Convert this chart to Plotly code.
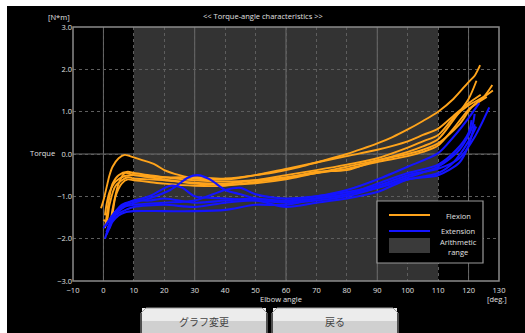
import plotly.graph_objects as go

# ---------------- data ----------------
flex_x = [
    [-0.8, 0, 1, 2, 3, 5, 7, 10, 13, 17, 20, 25, 30, 35, 40, 45, 50, 55, 60, 65, 70, 75, 80, 85, 90, 95, 100, 105, 110, 115, 120, 122, 123.8],
    [0.5, 1, 2, 3, 5, 8, 10, 15, 20, 30, 40, 50, 60, 70, 80, 90, 100, 105, 110, 115, 120, 122.6],
    [1.5, 2, 3, 5, 7, 10, 15, 20, 30, 40, 50, 60, 70, 80, 90, 100, 105, 110, 115, 120, 125, 127.8],
    [0, 1, 2, 4, 8, 10, 15, 20, 30, 40, 50, 60, 70, 80, 90, 100, 105, 110, 115, 120, 125, 128],
    [2, 3, 4, 6, 8, 10, 15, 20, 30, 40, 50, 60, 70, 80, 90, 100, 105, 110, 117, 121, 126],
    [0.5, 1, 2, 4, 7, 10, 15, 20, 30, 40, 50, 60, 70, 80, 90, 100, 105, 110, 115, 120, 124],
]
flex_y = [
    [-1.28, -1.1, -0.8, -0.5, -0.3, -0.1, -0.02, -0.08, -0.15, -0.25, -0.38, -0.5, -0.58, -0.6, -0.6, -0.56, -0.5, -0.45, -0.38, -0.3, -0.2, -0.1, 0.0, 0.12, 0.25, 0.4, 0.58, 0.78, 1.0, 1.3, 1.7, 1.85, 2.1],
    [-1.75, -1.5, -1.0, -0.7, -0.5, -0.42, -0.45, -0.5, -0.55, -0.62, -0.65, -0.62, -0.55, -0.45, -0.3, -0.15, 0.05, 0.18, 0.35, 0.8, 1.3, 1.73],
    [-1.7, -1.75, -1.3, -0.7, -0.45, -0.5, -0.55, -0.6, -0.7, -0.72, -0.69, -0.6, -0.45, -0.35, -0.19, -0.05, 0.05, 0.2, 0.6, 1.05, 1.35, 1.63],
    [-1.55, -1.6, -1.2, -0.75, -0.55, -0.58, -0.6, -0.62, -0.68, -0.7, -0.62, -0.5, -0.38, -0.25, -0.1, 0.15, 0.3, 0.45, 0.85, 1.15, 1.35, 1.5],
    [-1.7, -1.4, -1.0, -0.7, -0.6, -0.62, -0.66, -0.7, -0.75, -0.75, -0.66, -0.57, -0.42, -0.38, -0.15, 0.0, 0.1, 0.25, 0.7, 1.1, 1.35],
    [-1.45, -1.2, -0.9, -0.65, -0.52, -0.5, -0.52, -0.55, -0.55, -0.58, -0.5, -0.35, -0.2, -0.05, 0.1, 0.3, 0.45, 0.6, 0.9, 1.2, 1.4],
]
ext_x = [
    [1, 2, 3, 5, 7, 10, 20, 30, 40, 50, 60, 70, 80, 90, 100, 110, 115, 120, 122.5],
    [0.5, 2, 5, 10, 15, 22, 28, 31, 35, 40, 45, 50, 60, 70, 80, 90, 100, 110, 115, 120, 123.5],
    [0, 2, 6, 10, 15, 22, 26, 30, 40, 50, 60, 70, 80, 90, 100, 110, 117, 121, 122],
    [1, 3, 7, 10, 20, 30, 40, 45, 50, 60, 70, 80, 90, 100, 110, 117, 122, 126.8],
    [1.5, 4, 8, 10, 20, 30, 40, 50, 60, 70, 80, 90, 100, 110, 117, 120, 122],
    [0.8, 2, 4, 7, 10, 15, 20, 30, 40, 50, 60, 70, 80, 90, 100, 110, 116, 120, 121],
]
ext_y = [
    [-1.9, -1.75, -1.6, -1.45, -1.38, -1.35, -1.35, -1.35, -1.32, -1.2, -1.2, -1.05, -0.95, -0.8, -0.6, -0.45, -0.2, 0.3, 0.65],
    [-2.0, -1.7, -1.3, -1.15, -1.05, -0.85, -0.55, -0.5, -0.6, -0.85, -0.95, -1.05, -1.1, -1.0, -0.85, -0.6, -0.3, 0.02, 0.4, 0.85, 1.2],
    [-1.75, -1.55, -1.2, -1.1, -1.0, -0.75, -0.8, -1.0, -1.05, -1.1, -1.15, -1.1, -1.0, -0.8, -0.55, -0.3, 0.1, 0.6, 0.95],
    [-1.85, -1.5, -1.25, -1.2, -1.15, -1.1, -0.85, -0.8, -0.95, -1.05, -1.0, -0.9, -0.75, -0.5, -0.35, -0.1, 0.4, 1.1],
    [-1.8, -1.45, -1.3, -1.25, -1.2, -1.25, -1.15, -1.1, -1.25, -1.15, -1.05, -0.9, -0.6, -0.5, -0.2, 0.2, 0.7],
    [-1.7, -1.55, -1.35, -1.2, -1.1, -1.1, -1.05, -1.15, -1.1, -1.05, -1.12, -1.05, -0.95, -0.7, -0.45, -0.25, 0.1, 0.5, 0.8],
]
range_lo, range_hi = 10, 110
x_ticks = list(range(-10, 131, 10))
y_ticks = [-3, -2, -1, 0, 1, 2, 3]
solid_x = [0, 30, 60, 90, 120]

ORANGE = "#ffa41b"
BLUE = "#1414ff"

# ---------------- figure ----------------
OX, OY = 7, 6
PAGE_W, PAGE_H = 525, 333
W, H = PAGE_W - OX, PAGE_H - OY
L, T = 73 - OX, 27 - OY
R, B = PAGE_W - 499, PAGE_H - 281
pw, ph = W - L - R, H - T - B


def pxx(px):
    return (px - OX - L) / pw


def pxy(py):
    return (H - B - (py - OY)) / ph


fig = go.Figure()
for xs, ys in zip(flex_x, flex_y):
    fig.add_trace(go.Scatter(x=xs, y=ys, mode="lines", line=dict(color=ORANGE, width=1.9, shape="spline", smoothing=0.8),
                             showlegend=False, hoverinfo="skip"))
for xs, ys in zip(ext_x, ext_y):
    fig.add_trace(go.Scatter(x=xs, y=ys, mode="lines", line=dict(color=BLUE, width=2.1, shape="spline", smoothing=0.8),
                             showlegend=False, hoverinfo="skip"))

shapes = []
shapes.append(dict(type="rect", xref="x", yref="paper", x0=range_lo, x1=range_hi, y0=0, y1=1,
                   fillcolor="#333333", line_width=0, layer="below"))
for sx in solid_x:
    shapes.append(dict(type="line", xref="x", yref="paper", x0=sx, x1=sx, y0=0, y1=1,
                       line=dict(color="#6e6e6e", width=1), layer="between"))
shapes.append(dict(type="line", xref="paper", yref="y", x0=0, x1=1, y0=0, y1=0,
                   line=dict(color="#6e6e6e", width=1), layer="between"))
shapes.append(dict(type="rect", xref="paper", yref="paper", x0=0, x1=1, y0=0, y1=1,
                   line=dict(color="#8a8a8a", width=1.5), layer="above"))
shapes.append(dict(type="rect", xref="paper", yref="paper", x0=pxx(377), x1=pxx(483), y0=pxy(263), y1=pxy(201),
                   fillcolor="black", line=dict(color="#9a9a9a", width=1.2), layer="above"))
shapes.append(dict(type="line", xref="paper", yref="paper", x0=pxx(389), x1=pxx(430), y0=pxy(215), y1=pxy(215),
                   line=dict(color=ORANGE, width=2), layer="above"))
shapes.append(dict(type="line", xref="paper", yref="paper", x0=pxx(389), x1=pxx(430), y0=pxy(231), y1=pxy(231),
                   line=dict(color=BLUE, width=2.2), layer="above"))
shapes.append(dict(type="rect", xref="paper", yref="paper", x0=pxx(389), x1=pxx(430), y0=pxy(253), y1=pxy(238),
                   fillcolor="#3a3a3a", line_width=0, layer="above"))


def button(x0, x1, y0, y1):
    out = []
    r = 5
    ym = (y0 + y1) / 2
    for (a, b, col) in [(y0, ym + 1, "#ececec"), (ym, y1, "#d0d0d0")]:
        out.append(dict(type="rect", xref="paper", yref="paper", x0=pxx(x0 + 1), x1=pxx(x1 - 1),
                        y0=pxy(b), y1=pxy(a), fillcolor=col, line_width=0, layer="above"))
    out.append(dict(type="path", xref="paper", yref="paper", layer="above",
                    path=(f"M {pxx(x0 + r)},{pxy(y0)} L {pxx(x1 - r)},{pxy(y0)} "
                          f"L {pxx(x1)},{pxy(y0 + r)} L {pxx(x1)},{pxy(y1)} L {pxx(x0)},{pxy(y1)} "
                          f"L {pxx(x0)},{pxy(y0 + r)} Z"),
                    line=dict(color="#9c9c9c", width=1)))
    return out


shapes += button(141, 267, 308, 334)
shapes += button(272, 398, 308, 334)

TXT = "#e0e0e0"
FONT = "Open Sans"
ann = []


def text(s, px, py, size=7.5, xanchor="center", color=TXT, family=FONT):
    ann.append(dict(text=s, x=pxx(px), y=pxy(py), xref="paper", yref="paper", showarrow=False,
                    xanchor=xanchor, yanchor="middle", font=dict(size=size, color=color, family=family)))


text("&lt;&lt; Torque-angle characteristics &gt;&gt;", 263, 16)
text("[N*m]", 72, 17, xanchor="right")
text("Torque", 42, 153)
text("Elbow angle", 281, 299)
text("[deg.]", 497, 299)
text("Flexion", 458, 216)
text("Extension", 458, 231)
ann.append(dict(text="Arithmetic<br>range", x=pxx(458), y=pxy(246.5), xref="paper", yref="paper", showarrow=False,
                xanchor="center", yanchor="middle", font=dict(size=7.5, color=TXT, family=FONT)))
text("グラフ変更", 204, 321, size=10, color="#444444", family="Noto Sans CJK JP")
text("戻る", 335, 321, size=10, color="#444444", family="Noto Sans CJK JP")

fig.update_layout(
    width=W, height=H, margin=dict(l=L, r=R, t=T, b=B, pad=0),
    paper_bgcolor="black", plot_bgcolor="black",
    shapes=shapes, annotations=ann, showlegend=False,
    font=dict(family=FONT, color=TXT, size=7.5),
)
fig.update_xaxes(range=[-10, 130], tickvals=x_ticks, ticks="", showline=False, zeroline=False,
                 showgrid=True, gridcolor="#5e5e5e", griddash="dot", gridwidth=1, ticklabelstandoff=3,
                 tickfont=dict(size=7.5, color=TXT, family=FONT))
fig.update_yaxes(range=[-3, 3], tickvals=y_ticks, tickformat=".1f", ticks="", showline=False, zeroline=False,
                 showgrid=True, gridcolor="#5e5e5e", griddash="dot", gridwidth=1,
                 tickfont=dict(size=7.5, color=TXT, family=FONT))

fig.write_html(
    "out.html",
    config={"displayModeBar": False},
    post_script=(f"document.body.style.margin='{OY}px 0 0 {OX}px';"
                 "document.body.style.background='white';"
                 "document.body.style.overflow='hidden';"),
)
